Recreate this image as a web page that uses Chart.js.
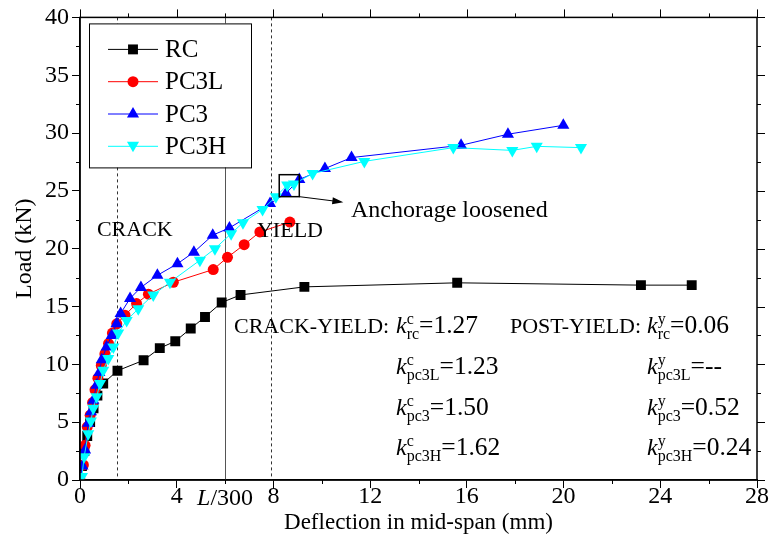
<!DOCTYPE html>
<html>
<head>
<meta charset="utf-8">
<script src="https://cdn.jsdelivr.net/npm/chart.js@4.4.1/dist/chart.umd.min.js"></script>
<style>
  body { margin: 0; background: #fff; }
</style>
</head>
<body>
<canvas id="myChart" width="771" height="547"></canvas>
<script>
// data (deflection mm, load kN)
const rcX = [0, 0.08, 0.18, 0.3, 0.42, 0.56, 0.72, 0.96, 1.55, 2.63, 3.3, 3.94, 4.58, 5.17, 5.86, 6.64, 9.28, 15.6, 23.2, 25.3];
const rcY = [0, 1.2, 2.5, 3.8, 5.0, 6.2, 7.3, 8.35, 9.45, 10.35, 11.4, 12.0, 13.1, 14.1, 15.35, 16.0, 16.7, 17.05, 16.85, 16.85];

const pc3lX = [0, 0.14, 0.21, 0.3, 0.42, 0.52, 0.62, 0.74, 0.88, 1.03, 1.18, 1.34, 1.52, 1.86, 2.34, 2.83, 3.86, 5.51, 6.1, 6.79, 7.44, 8.68];
const pc3lY = [0, 1.3, 3.0, 4.6, 5.6, 6.7, 7.8, 8.8, 9.9, 10.9, 11.8, 12.7, 13.5, 14.25, 15.26, 16.07, 17.1, 18.2, 19.25, 20.35, 21.45, 22.3];

const pc3X = [0, 0.1, 0.21, 0.34, 0.45, 0.55, 0.68, 0.8, 0.9, 1.1, 1.31, 1.51, 1.68, 2.07, 2.52, 3.2, 4.03, 4.71, 5.49, 6.18, 7.86, 8.52, 9.07, 10.13, 11.23, 15.76, 17.7, 19.99];
const pc3Y = [0, 1.2, 2.6, 4.9, 5.9, 6.9, 8.2, 9.3, 10.4, 11.5, 12.5, 13.5, 14.4, 15.7, 16.65, 17.7, 18.7, 19.7, 21.17, 21.8, 23.9, 24.8, 25.98, 26.93, 27.88, 28.94, 29.9, 30.67];

const pc3hX = [0.08, 0.17, 0.34, 0.45, 0.55, 0.69, 0.83, 0.96, 1.17, 1.38, 1.58, 1.93, 2.41, 3.03, 3.72, 4.96, 5.58, 6.25, 6.74, 7.55, 8.1, 8.57, 8.85, 9.62, 11.76, 15.44, 17.88, 18.89, 20.72];
const pc3hY = [0.3, 2.0, 4.0, 5.1, 6.2, 7.2, 8.35, 9.5, 10.5, 11.5, 12.7, 13.8, 14.8, 16.0, 17.1, 19.0, 20.0, 21.3, 22.25, 23.4, 24.5, 25.5, 25.6, 26.5, 27.55, 28.74, 28.5, 28.85, 28.74];

const seriesNames = ["RC", "PC3L", "PC3", "PC3H"];

// reference lines (mm)
const crackX = 1.52;
const spanX = 6;      // L/300
const yieldX = 7.9;

// stiffness notes
const kSubs = ["rc", "pc3L", "pc3", "pc3H"];
const kCrack = ["1.27", "1.23", "1.50", "1.62"];
const kPost = ["0.06", "--", "0.52", "0.24"];
const kRowY = [12.7, 9.16, 5.62, 2.16];

const serif = '"Liberation Serif", "Times New Roman", serif';

function pts(xs, ys) {
  return xs.map((x, i) => ({ x: x, y: ys[i] }));
}

function marker(ctx, style, x, y, r, rot) {
  ctx.beginPath();
  if (style === "rect") {
    const s = Math.SQRT1_2 * r;
    ctx.rect(x - s, y - s, 2 * s, 2 * s);
  } else if (style === "circle") {
    ctx.arc(x, y, r, 0, Math.PI * 2);
  } else {
    let a = (rot || 0) * Math.PI / 180;
    ctx.moveTo(x + Math.sin(a) * r, y - Math.cos(a) * r);
    a += 2 * Math.PI / 3;
    ctx.lineTo(x + Math.sin(a) * r, y - Math.cos(a) * r);
    a += 2 * Math.PI / 3;
    ctx.lineTo(x + Math.sin(a) * r, y - Math.cos(a) * r);
    ctx.closePath();
  }
  ctx.fill();
}

function drawK(ctx, x, y, sup, sub, val) {
  ctx.textAlign = "left";
  ctx.textBaseline = "alphabetic";
  ctx.font = "italic 24px " + serif;
  ctx.fillText("k", x, y);
  const w = ctx.measureText("k").width;
  ctx.font = "16px " + serif;
  ctx.fillText(sup, x + w, y - 9);
  ctx.fillText(sub, x + w, y + 6);
  const w2 = Math.max(ctx.measureText(sup).width, ctx.measureText(sub).width);
  ctx.font = "25.5px " + serif;
  ctx.fillText("=" + val, x + w + w2, y);
}

const extras = {
  id: "extras",
  beforeDatasetsDraw(chart) {
    const ctx = chart.ctx, a = chart.chartArea, xs = chart.scales.x;
    ctx.save();
    ctx.lineWidth = 1;
    ctx.strokeStyle = "#333";
    ctx.setLineDash([3, 3]);
    [crackX, yieldX].forEach(v => {
      const px = Math.round(xs.getPixelForValue(v)) + 0.5;
      ctx.beginPath(); ctx.moveTo(px, a.top); ctx.lineTo(px, a.bottom); ctx.stroke();
    });
    ctx.setLineDash([]);
    ctx.strokeStyle = "#555";
    const sx = Math.round(xs.getPixelForValue(spanX)) + 0.5;
    ctx.beginPath(); ctx.moveTo(sx, a.top); ctx.lineTo(sx, a.bottom); ctx.stroke();
    ctx.restore();
  },
  afterDraw(chart) {
    const ctx = chart.ctx, a = chart.chartArea, xs = chart.scales.x, ys = chart.scales.y;
    ctx.save();
    ctx.strokeStyle = "#000";
    ctx.fillStyle = "#000";

    // frame
    ctx.lineWidth = 1.5;
    ctx.strokeRect(a.left, a.top, a.right - a.left, a.bottom - a.top);

    // ticks: minor on bottom/left, all on top/right
    ctx.lineWidth = 1;
    ctx.beginPath();
    for (let v = 0; v <= 28; v += 2) {
      const px = Math.round(xs.getPixelForValue(v)) + 0.5;
      const len = v % 4 === 0 ? 8 : 4;
      if (v % 4 !== 0) { ctx.moveTo(px, a.bottom); ctx.lineTo(px, a.bottom + 4); }
      ctx.moveTo(px, a.top); ctx.lineTo(px, a.top - len);
    }
    for (let v = 0; v <= 40; v += 2.5) {
      const py = Math.round(ys.getPixelForValue(v)) + 0.5;
      const len = v % 5 === 0 ? 8 : 4;
      if (v % 5 !== 0) { ctx.moveTo(a.left, py); ctx.lineTo(a.left - 4, py); }
      ctx.moveTo(a.right, py); ctx.lineTo(a.right + len, py);
    }
    ctx.stroke();

    // L/300 tick label
    ctx.textBaseline = "alphabetic";
    ctx.font = "italic 24px " + serif;
    const lw = ctx.measureText("L").width;
    ctx.font = "24px " + serif;
    const rw = ctx.measureText("/300").width;
    const lx = xs.getPixelForValue(spanX) - (lw + rw) / 2;
    const ly = a.bottom + 25;
    ctx.textAlign = "left";
    ctx.font = "italic 24px " + serif;
    ctx.fillText("L", lx, ly);
    ctx.font = "24px " + serif;
    ctx.fillText("/300", lx + lw, ly);

    // labels
    ctx.textBaseline = "alphabetic";
    ctx.font = "22px " + serif;
    ctx.fillText("CRACK", xs.getPixelForValue(0.7), ys.getPixelForValue(21.08));
    ctx.fillText("YIELD", xs.getPixelForValue(7.32), ys.getPixelForValue(21.0));
    ctx.font = "24px " + serif;
    ctx.fillText("Anchorage loosened", xs.getPixelForValue(11.21), ys.getPixelForValue(22.7));

    // anchorage box and arrow
    const bx0 = xs.getPixelForValue(8.24), bx1 = xs.getPixelForValue(9.07);
    const by0 = ys.getPixelForValue(26.4), by1 = ys.getPixelForValue(24.5);
    ctx.lineWidth = 1.5;
    ctx.strokeRect(bx0, by0, bx1 - bx0, by1 - by0);
    const ax0 = bx1, ay0 = by1;
    const ax1 = xs.getPixelForValue(10.89), ay1 = ys.getPixelForValue(24.02);
    const ang = Math.atan2(ay1 - ay0, ax1 - ax0);
    ctx.lineWidth = 1;
    ctx.beginPath();
    ctx.moveTo(ax0, ay0);
    ctx.lineTo(ax1 - 9 * Math.cos(ang), ay1 - 9 * Math.sin(ang));
    ctx.stroke();
    ctx.beginPath();
    ctx.moveTo(ax1, ay1);
    ctx.lineTo(ax1 - 11 * Math.cos(ang) + 3.5 * Math.sin(ang), ay1 - 11 * Math.sin(ang) - 3.5 * Math.cos(ang));
    ctx.lineTo(ax1 - 11 * Math.cos(ang) - 3.5 * Math.sin(ang), ay1 - 11 * Math.sin(ang) + 3.5 * Math.cos(ang));
    ctx.closePath();
    ctx.fill();

    // stiffness notes
    ctx.font = "22px " + serif;
    ctx.textAlign = "left";
    ctx.fillText("CRACK-YIELD:", xs.getPixelForValue(6.37), ys.getPixelForValue(kRowY[0]));
    ctx.fillText("POST-YIELD:", xs.getPixelForValue(17.78), ys.getPixelForValue(kRowY[0]));
    kSubs.forEach((s, i) => {
      drawK(ctx, xs.getPixelForValue(13.07), ys.getPixelForValue(kRowY[i]), "c", s, kCrack[i]);
      drawK(ctx, xs.getPixelForValue(23.45), ys.getPixelForValue(kRowY[i]), "y", s, kPost[i]);
    });

    // legend
    const L = a.left + 9, T = a.top + 6;
    ctx.fillStyle = "#fff";
    ctx.fillRect(L, T, 162, 144);
    ctx.strokeStyle = "#000";
    ctx.lineWidth = 1;
    ctx.strokeRect(L + 0.5, T + 0.5, 162, 144);
    chart.data.datasets.forEach((ds, i) => {
      const y = T + 26 + i * 32.3;
      ctx.strokeStyle = ds.borderColor;
      ctx.beginPath(); ctx.moveTo(L + 19, y); ctx.lineTo(L + 69, y); ctx.stroke();
      ctx.fillStyle = ds.backgroundColor;
      marker(ctx, ds.pointStyle, L + 44, y + (ds.pointRotation ? -1 : 0), ds.pointRadius, ds.pointRotation);
      ctx.fillStyle = "#000";
      ctx.font = "25px " + serif;
      ctx.textBaseline = "middle";
      ctx.fillText(ds.label, L + 76, y + 1);
    });
    ctx.restore();
  }
};

new Chart(document.getElementById("myChart"), {
  type: "scatter",
  data: {
    datasets: [
      { label: seriesNames[0], data: pts(rcX, rcY), borderColor: "#000", backgroundColor: "#000",
        pointStyle: "rect", pointRadius: 7, order: 4 },
      { label: seriesNames[1], data: pts(pc3lX, pc3lY), borderColor: "#ff0000", backgroundColor: "#ff0000",
        pointStyle: "circle", pointRadius: 5.5, order: 3 },
      { label: seriesNames[2], data: pts(pc3X, pc3Y), borderColor: "#0000ff", backgroundColor: "#0000ff",
        pointStyle: "triangle", pointRadius: 7, order: 2 },
      { label: seriesNames[3], data: pts(pc3hX, pc3hY), borderColor: "#00ffff", backgroundColor: "#00ffff",
        pointStyle: "triangle", pointRotation: 180, pointRadius: 7, order: 1 }
    ].map(d => Object.assign(d, { showLine: true, borderWidth: 1, pointBorderWidth: 0, pointHoverRadius: d.pointRadius }))
  },
  options: {
    responsive: false,
    animation: false,
    layout: { padding: { top: 17, right: 14, left: 0, bottom: 0 } },
    plugins: { legend: { display: false }, tooltip: { enabled: false } },
    scales: {
      x: {
        type: "linear", min: 0, max: 28,
        ticks: { stepSize: 4, autoSkip: false, maxRotation: 0, color: "#000", padding: -6, font: { family: serif, size: 24 } },
        grid: { drawOnChartArea: false, tickLength: 8, color: "#000" },
        border: { color: "#000", width: 1.5 },
        title: { display: true, text: "Deflection in mid-span (mm)", color: "#000", font: { family: serif, size: 23 }, padding: { top: 0, bottom: 10 } },
        afterFit(s) { s.height = 67; }
      },
      y: {
        type: "linear", min: 0, max: 40,
        ticks: { stepSize: 5, color: "#000", padding: 3, font: { family: serif, size: 24 } },
        grid: { drawOnChartArea: false, tickLength: 8, color: "#000" },
        border: { color: "#000", width: 1.5 },
        title: { display: true, text: "Load (kN)", color: "#000", font: { family: serif, size: 24 }, padding: { top: 10, bottom: 0 } },
        afterFit(s) { s.width = 80; }
      }
    }
  },
  plugins: [extras]
});
</script>
</body>
</html>
